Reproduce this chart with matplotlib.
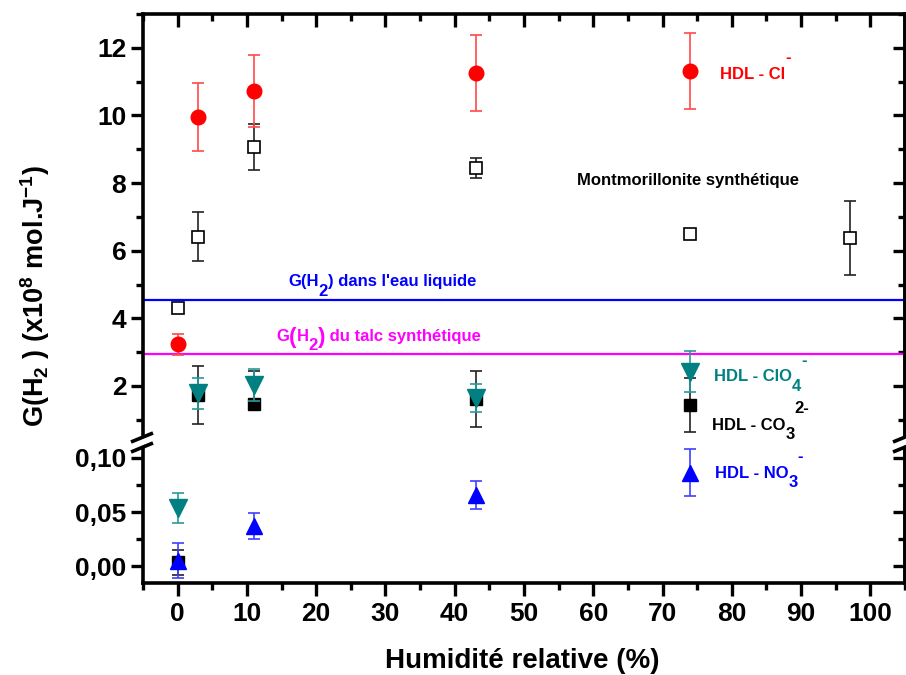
import matplotlib
matplotlib.use("Agg")
import matplotlib.pyplot as plt
from matplotlib.ticker import MultipleLocator, FuncFormatter, FixedLocator
from matplotlib.lines import Line2D
from matplotlib.patches import Polygon

plt.rcParams['font.family'] = ['Liberation Sans', 'DejaVu Sans']
plt.rcParams['font.weight'] = 'bold'
plt.rcParams['mathtext.fontset'] = 'custom'
plt.rcParams['mathtext.rm'] = 'Liberation Sans:bold'
plt.rcParams['mathtext.bf'] = 'Liberation Sans:bold'
plt.rcParams['mathtext.it'] = 'Liberation Sans:bold'
plt.rcParams['mathtext.default'] = 'bf'

# ---------------- data ----------------
x_cl = [0, 3, 11, 43, 74]
y_cl = [3.23, 9.95, 10.72, 11.25, 11.31]
e_cl = [0.32, 1.0, 1.07, 1.13, 1.12]

x_mont = [0, 3, 11, 43, 74, 97]
y_mont = [4.30, 6.42, 9.06, 8.44, 6.48, 6.38]
e_mont = [0.1, 0.71, 0.68, 0.29, 0.08, 1.1]

x_co3_hi = [3, 11, 43, 74]
y_co3_hi = [1.73, 1.47, 1.60, 1.44]
e_co3_hi_lo = [0.85, 0.10, 0.80, 0.81]
e_co3_hi_up = [0.85, 0.98, 0.85, 0.81]

x_clo4_hi = [3, 11, 43, 74]
y_clo4_hi = [1.78, 2.03, 1.64, 2.42]
e_clo4_hi = [0.46, 0.48, 0.41, 0.60]

x_clo4_lo = [0]
y_clo4_lo = [0.054]
e_clo4_lo = [0.014]

x_co3_lo = [0]
y_co3_lo = [0.0034]
e_co3_lo = [0.0115]

x_no3 = [0, 11, 43, 74]
y_no3 = [0.005, 0.0373, 0.0657, 0.0864]
e_no3 = [0.016, 0.012, 0.013, 0.022]

g_water = 4.54
g_talc = 2.95

x_ticks = [0, 10, 20, 30, 40, 50, 60, 70, 80, 90, 100]
y_ticks_hi = [2, 4, 6, 8, 10, 12]
y_ticks_lo = [0.0, 0.05, 0.10]

# ---------------- figure ----------------
W, H = 906, 675
fig = plt.figure(figsize=(W / 100, H / 100), dpi=100)
renderer = fig.canvas.get_renderer()

def fx(x):
    return x / W

def fy(y):
    return 1 - y / H

L, R, T, B, BRK = 143, 905, 14, 583, 442
ax1 = fig.add_axes([fx(L), fy(BRK), (R - L) / W, (BRK - T) / H])
ax2 = fig.add_axes([fx(L), fy(B), (R - L) / W, (B - BRK) / H])

teal = '#008080'
lw_sp = 2.6
for ax in (ax1, ax2):
    ax.set_xlim(-5, 105)
    for s in ax.spines.values():
        s.set_linewidth(lw_sp)
ax1.spines['bottom'].set_visible(False)
ax2.spines['top'].set_visible(False)

ax1.set_ylim(0.343, 13.0)
ax2.set_ylim(-0.0157, 0.1148)

cap = 4.4
elw = 1.2
# top panel
ax1.axhline(g_water, color='#0000FF', lw=1.6, zorder=1)
ax1.axhline(g_talc, color='#FF00FF', lw=1.6, zorder=1)
ax1.errorbar(x_mont, y_mont, yerr=e_mont, fmt='s', ms=8.5, mfc='white', mec='black',
             mew=1.2, ecolor='#222222', elinewidth=elw, capsize=cap, capthick=elw, zorder=3)
ax1.errorbar(x_cl, y_cl, yerr=e_cl, fmt='o', ms=10.5, color='#FF0000', mec='#FF0000',
             ecolor='#FF4848', elinewidth=elw, capsize=cap, capthick=elw, zorder=4)
ax1.errorbar(x_co3_hi, y_co3_hi, yerr=[e_co3_hi_lo, e_co3_hi_up], fmt='s', ms=9, color='black',
             ecolor='#222222', elinewidth=elw, capsize=cap, capthick=elw, zorder=5)
ax1.errorbar(x_clo4_hi, y_clo4_hi, yerr=e_clo4_hi, fmt='v', ms=12.5, color=teal, mec=teal,
             ecolor='#2a9a9a', elinewidth=elw, capsize=cap, capthick=elw, zorder=6)

# bottom panel
ax2.errorbar(x_co3_lo, y_co3_lo, yerr=e_co3_lo, fmt='s', ms=9, color='black',
             ecolor='#222222', elinewidth=elw, capsize=cap, capthick=elw, zorder=5)
ax2.errorbar(x_clo4_lo, y_clo4_lo, yerr=e_clo4_lo, fmt='v', ms=12.5, color=teal, mec=teal,
             ecolor='#2a9a9a', elinewidth=elw, capsize=cap, capthick=elw, zorder=6)
ax2.errorbar(x_no3, y_no3, yerr=e_no3, fmt='^', ms=12, color='#0000FF', mec='#0000FF',
             ecolor='#4040FF', elinewidth=elw, capsize=cap, capthick=elw, zorder=7)

# ticks
tick_kw = dict(width=2.4, length=9)
minor_kw = dict(width=2.4, length=5)

ax1.xaxis.set_major_locator(FixedLocator(x_ticks))
ax1.xaxis.set_minor_locator(MultipleLocator(5))
ax1.tick_params(axis='x', which='both', top=True, bottom=False, direction='in',
                labeltop=False, labelbottom=False)
ax1.tick_params(axis='x', which='major', **tick_kw)
ax1.tick_params(axis='x', which='minor', **minor_kw)

ax1.yaxis.set_major_locator(FixedLocator(y_ticks_hi))
ax1.yaxis.set_minor_locator(MultipleLocator(1))
ax1.tick_params(axis='y', which='both', left=True, right=False, direction='out')
ax1.tick_params(axis='y', which='major', labelsize=19, pad=3, **tick_kw)
ax1.tick_params(axis='y', which='minor', **minor_kw)

ax2.xaxis.set_major_locator(FixedLocator(x_ticks))
ax2.xaxis.set_minor_locator(MultipleLocator(5))
ax2.tick_params(axis='x', which='both', bottom=True, top=False, direction='out')
ax2.tick_params(axis='x', which='major', labelsize=19, pad=5, **tick_kw)
ax2.tick_params(axis='x', which='minor', **minor_kw)

ax2.yaxis.set_major_locator(FixedLocator(y_ticks_lo))
ax2.yaxis.set_minor_locator(MultipleLocator(0.025))
ax2.yaxis.set_major_formatter(FuncFormatter(lambda v, p: f"{v:.2f}".replace('.', ',')))
ax2.tick_params(axis='y', which='both', left=True, right=False, direction='out')
ax2.tick_params(axis='y', which='major', labelsize=19, pad=3, **tick_kw)
ax2.tick_params(axis='y', which='minor', **minor_kw)

# right-side inward ticks
for ax, maj, mnr in ((ax1, y_ticks_hi, 1), (ax2, y_ticks_lo, 0.025)):
    sec = ax.secondary_yaxis('right')
    sec.yaxis.set_major_locator(FixedLocator(maj))
    sec.yaxis.set_minor_locator(MultipleLocator(mnr))
    sec.tick_params(axis='y', which='both', direction='in', labelright=False)
    sec.tick_params(axis='y', which='major', **tick_kw)
    sec.tick_params(axis='y', which='minor', **minor_kw)
    sec.spines['right'].set_linewidth(lw_sp)

# break marks
for xc in (L, R):
    gap = Polygon([(fx(xc - 3), fy(BRK + 5)), (fx(xc + 3), fy(BRK + 2)),
                   (fx(xc + 3), fy(BRK - 6)), (fx(xc - 3), fy(BRK - 3))],
                  closed=True, transform=fig.transFigure, facecolor='white',
                  edgecolor='none', zorder=10)
    fig.add_artist(gap)
    for dy in (-5, 5):
        fig.add_artist(Line2D([fx(xc - 12), fx(xc + 10)],
                              [fy(BRK + dy + 5), fy(BRK + dy - 4)],
                              transform=fig.transFigure, color='black', lw=2.6,
                              solid_capstyle='butt', zorder=11))

# annotations built piece by piece (Origin-style sub/superscripts)
def rich(x, y, parts, color, fs=12):
    cx = x
    for s, dy, scale in parts:
        t = fig.text(fx(cx), fy(y + dy), s, color=color, fontsize=fs * scale,
                     fontweight='bold', va='baseline', ha='left')
        cx += t.get_window_extent(renderer=renderer).width

rich(720, 79, [('HDL - Cl', 0, 1), ('-', -17, 1)], '#FF0000')
rich(577, 185, [('Montmorillonite synthétique', 0, 1)], 'black')
rich(288, 286, [('G(H', 0, 1), ('2', 10, 1), (") dans l'eau liquide", 0, 1)], '#0000FF')
rich(276, 341, [('G', 0, 1), ('(', 2, 1.35), ('H', 0, 1), ('2', 9, 1), (')', 2, 1.35),
                (' du talc synthétique', 0, 1)], '#FF00FF')
rich(714, 381, [('HDL - ClO', 0, 1), ('4', 10, 1), ('-', -16, 1)], teal)
rich(712, 430, [('HDL - CO', 0, 1), ('3', 9, 1), ('2-', -17, 1)], 'black')
rich(715, 478, [('HDL - NO', 0, 1), ('3', 9, 1), ('-', -17, 1)], '#0000FF')

# axis labels
fig.text(fx(35), fy(296), r'G(H$_{2}$ ) (x10$^{8}$ mol.J$^{-1}$)', rotation=90, ha='center',
         va='center', fontsize=19.5, fontweight='bold')
fig.text(fx(522), fy(661), 'Humidité relative (%)', ha='center', va='center', fontsize=20,
         fontweight='bold')

fig.savefig('out.png', dpi=100)
